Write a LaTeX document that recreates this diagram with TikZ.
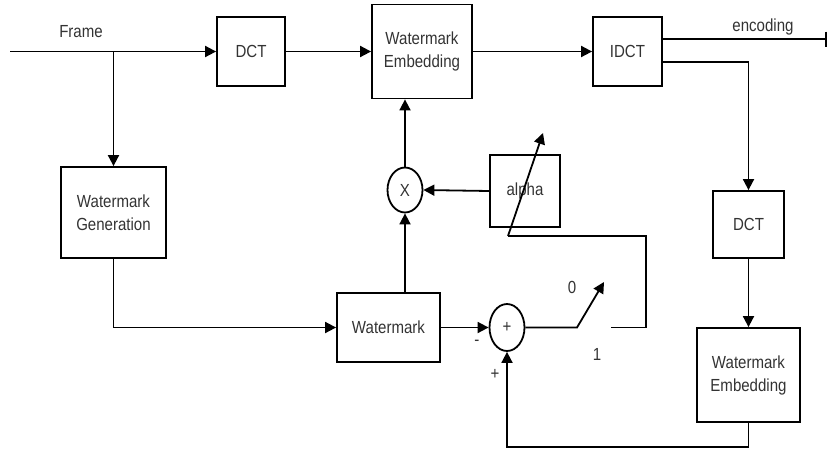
\documentclass[tikz,border=0pt]{standalone}
\usepackage{fontspec}
\setmainfont{Liberation Sans}[FakeStretch=0.86]
\usetikzlibrary{arrows.meta,shapes.geometric}
\begin{document}
\begin{tikzpicture}[x=1pt,y=-1pt,
  line width=1.8pt,
  every node/.style={font=\fontsize{17.5}{23}\selectfont, text=black!80},
  blk/.style={draw=black, line width=1.8pt, rectangle, inner sep=0pt, align=center},
  op/.style={draw=black, line width=1.8pt, ellipse, inner sep=0pt, minimum width=35pt, minimum height=46pt},
  arr/.style={-{Triangle[length=11pt,width=11pt]}},
  lbl/.style={inner sep=0pt}]
\useasboundingbox (0,0) rectangle (828,453);
% blocks
\node[blk, minimum width=68pt, minimum height=69pt] (dct1) at (251,51.5) {DCT};
\node[blk, minimum width=100pt, minimum height=94pt] (we1) at (422,51.5) {Watermark\\Embedding};
\node[blk, minimum width=69pt, minimum height=69pt] (idct) at (627.5,51.5) {IDCT};
\node[blk, minimum width=105pt, minimum height=91pt] (wg) at (113.5,212.5) {Watermark\\Generation};
\node[blk, minimum width=103pt, minimum height=69pt] (wm) at (388.5,327.5) {Watermark};
\node[blk, minimum width=70pt, minimum height=72pt] (alpha) at (525,191) {alpha};
\node[blk, minimum width=71pt, minimum height=67pt] (dct2) at (748.5,224.5) {DCT};
\node[blk, minimum width=103pt, minimum height=94pt] (we2) at (748.5,375) {Watermark\\Embedding};
\node[op, minimum height=45pt] (mult) at (405,190) {X};
\node[op, minimum height=47pt] (sum) at (507,327.5) {+};
% coordinates
\coordinate (fin) at (10,51.5);
\coordinate (br) at (113.5,51.5);
\coordinate (encend) at (827,39);
\coordinate (idctB) at (662,62);
\coordinate (bot) at (748.5,447);
\coordinate (swA) at (577,327.5);
\coordinate (swTip) at (604,282);
\coordinate (swB) at (611,327.5);
\coordinate (swC) at (646,327.5);
\coordinate (swD) at (646,236);
\coordinate (swE) at (508,236);
\coordinate (swTip2) at (543,133);
% labels
\node[lbl] (lframe) at (81,32) {Frame};
\node[lbl] (lenc) at (763,27) {encoding};
\node[lbl] (l0) at (572,287) {0};
\node[lbl] (l1) at (597,354) {1};
\node[lbl] (lminus) at (477,343) {-};
\node[lbl] (lplus) at (495,374) {+};
% connectors
\draw[arr] (fin) -- (dct1.west);
\draw[arr] (br) -- (wg.north);
\draw[arr] (dct1.east) -- (we1.west);
\draw[arr] (we1.east) -- (idct.west);
\draw[-{Bar[width=15pt]}] (idct.east |- encend) -- (encend);
\draw[arr] (idctB) -| (dct2.north);
\draw[arr] (dct2.south) -- (we2.north);
\draw[arr] (we2.south) -- (bot) -| (sum.south);
\draw[arr] (wg.south) |- (wm.west);
\draw[arr] (wm.east) -- (sum.west);
\draw[arr] (mult.south |- wm.north) -- (mult.south);
\draw[arr] (mult.north) -- (mult.north |- we1.south);
\draw[arr] (alpha.west) -- (mult.east);
\draw[arr] (sum.east) -- (swA) -- (swTip);
\draw (swB) -- (swC) -- (swD) -- (swE);
\draw[arr] (swE) -- (swTip2);
\end{tikzpicture}
\end{document}
